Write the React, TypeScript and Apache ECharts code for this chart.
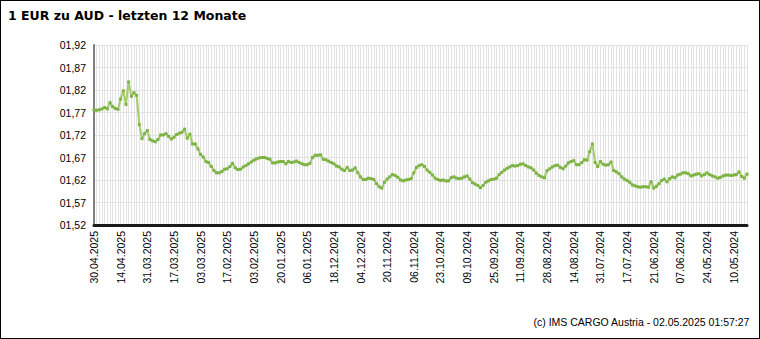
import React, { useEffect, useRef } from "react";
import * as echarts from "echarts";

const titleText = "1 EUR zu AUD - letzten 12 Monate";
const footerText = "(c) IMS CARGO Austria - 02.05.2025 01:57:27";

const tickLabels = [
  "30.04.2025", "14.04.2025", "31.03.2025", "17.03.2025", "03.03.2025",
  "17.02.2025", "03.02.2025", "20.01.2025", "06.01.2025", "18.12.2024",
  "04.12.2024", "20.11.2024", "06.11.2024", "23.10.2024", "09.10.2024",
  "25.09.2024", "11.09.2024", "28.08.2024", "14.08.2024", "31.07.2024",
  "17.07.2024", "21.06.2024", "07.06.2024", "24.05.2024", "10.05.2024",
];

const rates = [
  1.776, 1.775, 1.776, 1.778, 1.781, 1.778, 1.792, 1.783, 1.779, 1.777,
  1.800, 1.818, 1.788, 1.838, 1.806, 1.814, 1.808, 1.743, 1.712, 1.723,
  1.730, 1.710, 1.707, 1.705, 1.710, 1.720, 1.720, 1.723, 1.717, 1.711,
  1.715, 1.721, 1.724, 1.726, 1.733, 1.713, 1.722, 1.700, 1.700, 1.689,
  1.677, 1.671, 1.661, 1.659, 1.650, 1.641, 1.636, 1.636, 1.639, 1.644,
  1.645, 1.650, 1.657, 1.647, 1.643, 1.644, 1.649, 1.652, 1.656, 1.660,
  1.664, 1.667, 1.669, 1.670, 1.670, 1.668, 1.666, 1.658, 1.658, 1.660,
  1.661, 1.661, 1.656, 1.661, 1.659, 1.660, 1.662, 1.659, 1.656, 1.654,
  1.654, 1.657, 1.670, 1.675, 1.675, 1.676, 1.666, 1.665, 1.662, 1.659,
  1.656, 1.651, 1.649, 1.644, 1.641, 1.648, 1.641, 1.642, 1.647, 1.636,
  1.627, 1.621, 1.621, 1.624, 1.623, 1.621, 1.612, 1.605, 1.602, 1.615,
  1.622, 1.627, 1.632, 1.630, 1.626, 1.620, 1.618, 1.620, 1.621, 1.623,
  1.636, 1.648, 1.652, 1.654, 1.650, 1.642, 1.637, 1.631, 1.624, 1.621,
  1.619, 1.620, 1.618, 1.618, 1.625, 1.627, 1.624, 1.623, 1.624, 1.627,
  1.629, 1.622, 1.614, 1.611, 1.608, 1.603, 1.608, 1.615, 1.618, 1.621,
  1.622, 1.624, 1.632, 1.637, 1.642, 1.646, 1.649, 1.652, 1.651, 1.652,
  1.655, 1.656, 1.652, 1.649, 1.647, 1.642, 1.635, 1.630, 1.627, 1.625,
  1.641, 1.645, 1.649, 1.652, 1.653, 1.648, 1.645, 1.651, 1.658, 1.661,
  1.663, 1.654, 1.654, 1.659, 1.665, 1.664, 1.683, 1.700, 1.659, 1.650,
  1.661, 1.655, 1.653, 1.654, 1.660, 1.641, 1.638, 1.634, 1.627, 1.622,
  1.619, 1.615, 1.609, 1.607, 1.605, 1.604, 1.605, 1.605, 1.604, 1.616,
  1.602, 1.606, 1.612, 1.619, 1.622, 1.616, 1.623, 1.627, 1.625, 1.631,
  1.633, 1.636, 1.636, 1.634, 1.629, 1.631, 1.633, 1.634, 1.629, 1.632,
  1.636, 1.632, 1.629, 1.627, 1.624, 1.626, 1.629, 1.631, 1.631, 1.630,
  1.631, 1.632, 1.638, 1.628, 1.624, 1.633,
];

const yMin = 1.52;
const yMax = 1.92;
const yStep = 0.05;
const labelEvery = 10;

const categories = rates.map((_, i) =>
  i % labelEvery === 0 && tickLabels[i / labelEvery]
    ? tickLabels[i / labelEvery]
    : "#" + i
);

export default function App() {
  const ref = useRef<HTMLDivElement>(null);

  useEffect(() => {
    document.body.style.margin = "0";
    const chart = echarts.init(ref.current!, null, { renderer: "svg" });
    chart.setOption({
      animation: false,
      backgroundColor: "#ffffff",
      title: {
        text: titleText,
        left: 8,
        top: 9,
        padding: 0,
        textStyle: {
          fontFamily: "DejaVu Sans",
          fontWeight: "bold",
          fontSize: 12.5,
          color: "#000000",
        },
      },
      graphic: [
        {
          type: "text",
          right: 10,
          top: 316,
          style: {
            text: footerText,
            fontFamily: "Liberation Sans",
            fontSize: 10.5,
            fill: "#000000",
          },
        },
      ],
      grid: { left: 94, right: 13, top: 45, bottom: 114, containLabel: false },
      xAxis: {
        type: "category",
        data: categories,
        boundaryGap: false,
        axisLine: { show: true, lineStyle: { color: "#1a1a1a", width: 3 } },
        axisTick: { show: false },
        axisLabel: {
          interval: labelEvery - 1,
          rotate: 90,
          margin: 6,
          fontFamily: "Liberation Sans",
          fontSize: 10.5,
          color: "#000000",
        },
        splitLine: {
          show: true,
          interval: 0,
          lineStyle: { color: "#e3e3e3", width: 1 },
        },
      },
      yAxis: {
        type: "value",
        min: yMin,
        max: yMax,
        interval: yStep,
        axisLine: { show: true, lineStyle: { color: "#808080", width: 2 } },
        axisTick: { show: false },
        axisLabel: {
          margin: 8,
          fontFamily: "Liberation Sans",
          fontSize: 10.5,
          color: "#000000",
          formatter: (v: number) => "0" + v.toFixed(2).replace(".", ","),
        },
        splitLine: { show: true, lineStyle: { color: "#e0e0e0", width: 1 } },
      },
      series: [
        {
          type: "line",
          data: rates,
          symbol: "rect",
          symbolSize: 3,
          showSymbol: true,
          showAllSymbol: true,
          lineStyle: { color: "#a3cb6e", width: 2 },
          itemStyle: { color: "#7cb342" },
        },
      ],
    });
    return () => chart.dispose();
  }, []);

  return (
    <div style={{ position: "relative", width: 760, height: 339 }}>
      <div ref={ref} style={{ width: 760, height: 339 }} />
      <div
        style={{
          position: "absolute",
          left: 0,
          top: 0,
          width: 760,
          height: 339,
          border: "1px solid #000",
          boxSizing: "border-box",
          pointerEvents: "none",
        }}
      />
    </div>
  );
}
